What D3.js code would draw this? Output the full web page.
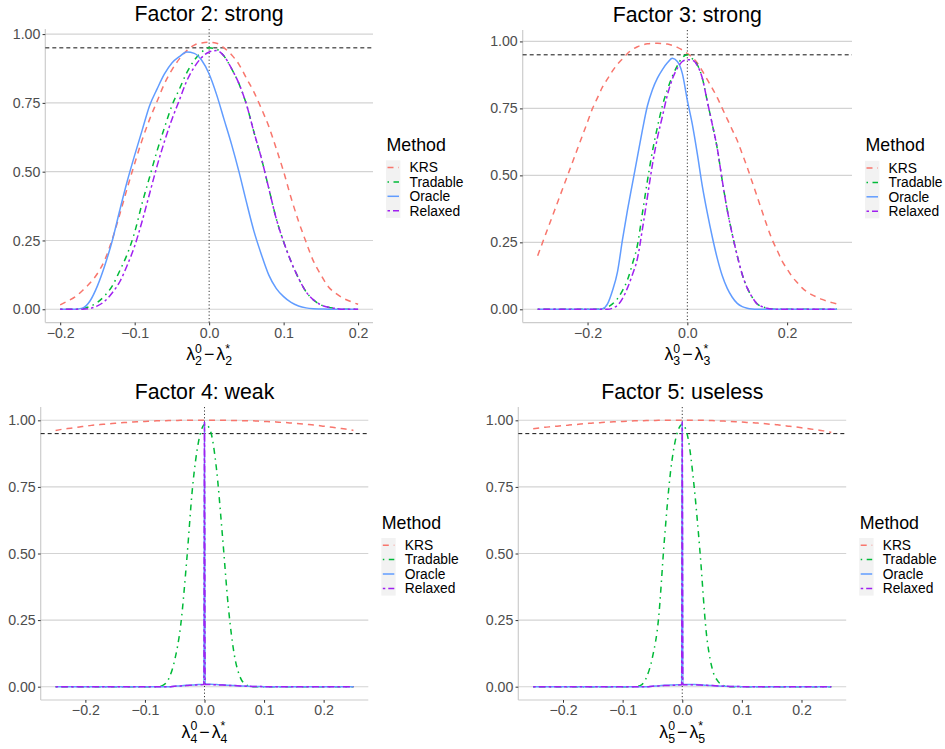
<!DOCTYPE html>
<html><head><meta charset="utf-8">
<script src="https://cdn.jsdelivr.net/npm/d3@7"></script>
<style>
body{margin:0;background:#fff}
svg{display:block}
text{font-family:"Liberation Sans",Arial,sans-serif}
</style>
</head><body>
<svg id="c" width="945" height="749"></svg>
<script>
// ---------- data ----------
const methods = ["KRS", "Tradable", "Oracle", "Relaxed"];
const methodColors = ["#F8766D", "#00BA38", "#619CFF", "#A020F0"];
const methodDash = ["6,5", "1.5,4.5,6,4.5", null, "2.5,3,7,3"];
const yTicks = [0, 0.25, 0.5, 0.75, 1];
const yTickLabels = ["0.00", "0.25", "0.50", "0.75", "1.00"];
const refCoverage = 0.95;
const titles = ["Factor 2: strong", "Factor 3: strong", "Factor 4: weak", "Factor 5: useless"];
const factorIndex = ["2", "3", "4", "5"];
const f2Ticks = [-0.2, -0.1, 0, 0.1, 0.2];
const f3Ticks = [-0.2, 0, 0.2];
const f4Ticks = [-0.2, -0.1, 0, 0.1, 0.2];
const f5Ticks = [-0.2, -0.1, 0, 0.1, 0.2];

// Factor 2: x = -0.20 .. 0.20 step 0.01
const f2X = d3.range(-20, 21).map(i => i / 100);
const f2KRS = [0.016,0.03,0.045,0.068,0.095,0.13,0.18,0.255,0.345,0.44,
  0.53,0.615,0.69,0.755,0.82,0.87,0.91,0.94,0.96,0.968,
  0.97,
  0.967,0.95,0.925,0.89,0.84,0.79,0.73,0.665,0.585,0.5,
  0.405,0.32,0.245,0.175,0.125,0.082,0.058,0.04,0.028,0.018];
const f2Tradable = [0,0,0,0.003,0.01,0.025,0.05,0.085,0.14,0.2,
  0.28,0.385,0.48,0.575,0.66,0.74,0.8,0.86,0.905,0.935,
  0.95,
  0.945,0.92,0.875,0.82,0.745,0.645,0.55,0.44,0.33,0.245,
  0.173,0.113,0.064,0.034,0.016,0.007,0.003,0,0,0];
const f2Oracle = [0,0,0,0.004,0.03,0.085,0.16,0.25,0.36,0.465,
  0.56,0.65,0.74,0.8,0.855,0.895,0.918,0.935,0.93,0.905,
  0.855,
  0.78,0.69,0.6,0.5,0.39,0.285,0.2,0.125,0.076,0.046,
  0.025,0.012,0.005,0.002,0.001,0,0,0,0,0];
const f2Relaxed = [0,0,0,0,0.003,0.012,0.03,0.06,0.1,0.16,
  0.23,0.32,0.42,0.52,0.61,0.69,0.76,0.83,0.88,0.915,
  0.935,
  0.94,0.92,0.875,0.82,0.745,0.645,0.55,0.44,0.33,0.245,
  0.173,0.113,0.064,0.034,0.016,0.007,0.003,0,0,0];

// Factor 3: x = -0.30 .. 0.30 step 0.01
const f3X = d3.range(-30, 31).map(i => i / 100);
const f3KRS = [0.2,0.25,0.3,0.35,0.4,0.45,0.5,0.55,0.6,0.65,
  0.7,0.75,0.79,0.83,0.86,0.89,0.915,0.935,0.955,0.97,
  0.98,0.987,0.991,0.993,0.993,0.992,0.99,0.985,0.978,0.968,
  0.955,
  0.94,0.92,0.89,0.857,0.825,0.79,0.75,0.71,0.67,0.63,
  0.58,0.53,0.475,0.42,0.365,0.31,0.26,0.22,0.18,0.15,
  0.122,0.1,0.08,0.065,0.054,0.045,0.037,0.03,0.025,0.02];
const f3Tradable = [0,0,0,0,0,0,0,0,0,0,
  0,0,0,0.002,0.008,0.02,0.04,0.07,0.11,0.17,
  0.24,0.36,0.48,0.59,0.68,0.76,0.82,0.87,0.91,0.94,
  0.95,
  0.935,0.913,0.863,0.776,0.69,0.6,0.48,0.37,0.28,0.2,
  0.13,0.08,0.045,0.02,0.01,0.004,0.001,0,0,0,
  0,0,0,0,0,0,0,0,0,0];
const f3Oracle = [0,0,0,0,0,0,0,0,0,0,
  0,0,0,0.002,0.02,0.07,0.14,0.26,0.37,0.47,
  0.57,0.67,0.76,0.82,0.863,0.895,0.92,0.937,0.925,0.88,
  0.78,
  0.69,0.58,0.46,0.36,0.27,0.19,0.125,0.078,0.045,0.022,
  0.01,0.004,0.001,0,0,0,0,0,0,0,
  0,0,0,0,0,0,0,0,0,0];
const f3Relaxed = [0,0,0,0,0,0,0,0,0,0,
  0,0,0,0,0,0.004,0.015,0.04,0.08,0.13,
  0.19,0.3,0.42,0.54,0.64,0.72,0.8,0.86,0.9,0.925,
  0.932,
  0.93,0.91,0.863,0.776,0.69,0.6,0.48,0.37,0.28,0.2,
  0.13,0.08,0.045,0.02,0.01,0.004,0.001,0,0,0,
  0,0,0,0,0,0,0,0,0,0];

// Factors 4 and 5: x = -0.25 .. -0.01, -0.001, 0, 0.001, 0.01 .. 0.25
const f45X = d3.range(-25, 0).map(i => i / 100).concat([-0.001, 0, 0.001], d3.range(1, 26).map(i => i / 100));
const f4KRS = [0.962,0.966,0.969,0.972,0.975,0.978,0.981,0.983,0.985,0.987,
  0.989,0.991,0.992,0.994,0.995,0.996,0.997,0.998,0.998,0.999,
  0.999,1,1,1,1,
  1,1,1,
  1,1,1,1,0.999,0.999,0.998,0.998,0.997,0.996,
  0.995,0.994,0.992,0.991,0.989,0.987,0.985,0.983,0.981,0.978,
  0.975,0.972,0.969,0.966,0.962];
const f4Tradable = [0,0,0,0,0,0,0,0,0,0,0,0,0,0,0,0,0,0,
  0.005,0.03,0.1,0.23,0.47,0.75,0.92,
  0.983,0.985,0.987,
  0.96,0.82,0.57,0.3,0.12,0.035,0.007,
  0,0,0,0,0,0,0,0,0,0,0,0,0,0,0,0,0,0];
const f4Oracle = [0,0,0,0,0,0,0,0,0,0,0,0,0,0,0,0,0,0,0,0,
  0.002,0.003,0.005,0.006,0.008,
  0.009,0.995,0.009,
  0.009,0.008,0.007,0.005,0.004,0.003,0.002,0.001,0.001,
  0,0,0,0,0,0,0,0,0,0,0,0,0,0,0,0];
const f4Relaxed = [0,0,0,0,0,0,0,0,0,0,0,0,0,0,0,0,0,0,0,0,
  0.002,0.003,0.004,0.006,0.007,
  0.008,0.994,0.008,
  0.008,0.007,0.006,0.005,0.004,0.003,0.002,0.001,0.001,
  0,0,0,0,0,0,0,0,0,0,0,0,0,0,0,0];

const f5KRS = [0.968,0.971,0.974,0.976,0.978,0.98,0.982,0.984,0.986,0.988,
  0.99,0.991,0.993,0.994,0.995,0.996,0.997,0.998,0.998,0.999,
  0.999,1,1,1,1,
  1,1,1,
  1,1,1,1,0.999,0.998,0.997,0.996,0.995,0.994,
  0.992,0.991,0.989,0.987,0.985,0.983,0.98,0.978,0.975,0.972,
  0.969,0.966,0.963,0.959,0.955];
const f5Tradable = [0,0,0,0,0,0,0,0,0,0,0,0,0,0,0,0,0,0,
  0.005,0.035,0.11,0.25,0.55,0.8,0.94,
  0.985,0.986,0.985,
  0.93,0.75,0.5,0.21,0.07,0.02,0.004,
  0,0,0,0,0,0,0,0,0,0,0,0,0,0,0,0,0,0];
const f5Oracle = [0,0,0,0,0,0,0,0,0,0,0,0,0,0,0,0,0,0,0,0,
  0.002,0.003,0.005,0.006,0.007,
  0.008,0.995,0.008,
  0.008,0.008,0.007,0.005,0.004,0.003,0.002,0.001,0.001,
  0,0,0,0,0,0,0,0,0,0,0,0,0,0,0,0];
const f5Relaxed = [0,0,0,0,0,0,0,0,0,0,0,0,0,0,0,0,0,0,0,0,
  0.002,0.003,0.004,0.005,0.006,
  0.007,0.994,0.007,
  0.007,0.007,0.006,0.005,0.004,0.003,0.002,0.001,0.001,
  0,0,0,0,0,0,0,0,0,0,0,0,0,0,0,0];

// ---------- layout ----------
const panels = [
  {x: f2X, s: [f2KRS, f2Tradable, f2Oracle, f2Relaxed], ticks: f2Ticks, L: 45.3, R: 373, T: 29, B: 322.6},
  {x: f3X, s: [f3KRS, f3Tradable, f3Oracle, f3Relaxed], ticks: f3Ticks, L: 522.7, R: 852, T: 30, B: 322.6},
  {x: f45X, s: [f4KRS, f4Tradable, f4Oracle, f4Relaxed], ticks: f4Ticks, L: 40.7, R: 368.3, T: 407, B: 700},
  {x: f45X, s: [f5KRS, f5Tradable, f5Oracle, f5Relaxed], ticks: f5Ticks, L: 518.3, R: 846.2, T: 407, B: 700}
];
const TICK_FS = 14.2, TITLE_FS = 21.3, AXT_FS = 17.8, LEG_T_FS = 17.8, LEG_FS = 13.8;

const svg = d3.select("#c");
svg.append("rect").attr("width", 945).attr("height", 749).attr("fill", "#fff");

function expand(ext) { const r = ext[1] - ext[0]; return [ext[0] - 0.05 * r, ext[1] + 0.05 * r]; }
function fmtX(d) { return d === 0 ? "0.0" : (d < 0 ? "\u2212" : "") + Math.abs(d).toFixed(1); }

function lambdaTitle(g, cx, y, k) {
  const t = g.append("g");
  let x = 0;
  const small = 12.3;
  function piece(txt, size, dy) {
    const el = t.append("text").attr("x", x).attr("y", dy).attr("font-size", size).attr("fill", "#000").text(txt);
    return el.node().getComputedTextLength();
  }
  x += piece("\u03BB", AXT_FS, 0);
  let a = piece("0", small, -7.5), b = piece(k, small, 5);
  x += Math.max(a, b) + 2;
  x += piece("\u2212", AXT_FS, 0) + 2;
  x += piece("\u03BB", AXT_FS, 0);
  a = piece("*", small, -7.5); b = piece(k, small, 5);
  x += Math.max(a, b);
  t.attr("transform", `translate(${cx - x / 2},${y})`);
}

panels.forEach((p, pi) => {
  const g = svg.append("g");
  const xs = d3.scaleLinear().domain(expand(d3.extent(p.x))).range([p.L, p.R]);
  const allY = p.s.flat().concat([refCoverage]);
  const ys = d3.scaleLinear().domain(expand(d3.extent(allY))).range([p.B, p.T]);

  // grid
  g.append("g").selectAll("line").data(yTicks).join("line")
    .attr("x1", p.L).attr("x2", p.R).attr("y1", d => ys(d)).attr("y2", d => ys(d))
    .attr("stroke", "#D3D3D3").attr("stroke-width", 1.1);

  // axis lines
  g.append("line").attr("x1", p.L).attr("x2", p.L).attr("y1", p.T).attr("y2", p.B)
    .attr("stroke", "#CCCCCC").attr("stroke-width", 1.2);
  g.append("line").attr("x1", p.L).attr("x2", p.R).attr("y1", p.B).attr("y2", p.B)
    .attr("stroke", "#CCCCCC").attr("stroke-width", 1.2);

  // axes
  const ya = g.append("g").attr("transform", `translate(${p.L},0)`)
    .call(d3.axisLeft(ys).tickValues(yTicks).tickFormat((d, i) => yTickLabels[i]).tickSize(2.75).tickPadding(2.2));
  const xa = g.append("g").attr("transform", `translate(0,${p.B})`)
    .call(d3.axisBottom(xs).tickValues(p.ticks).tickFormat(fmtX).tickSize(2.75).tickPadding(2.2));
  [ya, xa].forEach(a => {
    a.select(".domain").remove();
    a.selectAll(".tick line").attr("stroke", "#333").attr("stroke-width", 1);
    a.selectAll(".tick text").attr("fill", "#4D4D4D").attr("font-size", TICK_FS)
      .attr("font-family", '"Liberation Sans",Arial,sans-serif');
  });

  // reference lines
  g.append("line").attr("x1", p.L).attr("x2", p.R).attr("y1", ys(refCoverage)).attr("y2", ys(refCoverage))
    .attr("stroke", "#111").attr("stroke-width", 1).attr("stroke-dasharray", "4,3");
  g.append("line").attr("x1", xs(0)).attr("x2", xs(0)).attr("y1", p.T).attr("y2", p.B)
    .attr("stroke", "#222").attr("stroke-width", 0.9).attr("stroke-dasharray", "1.2,2.2");

  // series
  const line = d3.line().x(d => xs(d[0])).y(d => ys(d[1])).curve(d3.curveMonotoneX);
  p.s.forEach((vals, mi) => {
    const pts = p.x.map((x, i) => [x, vals[i]]);
    g.append("path").attr("d", line(pts)).attr("fill", "none")
      .attr("stroke", methodColors[mi]).attr("stroke-width", 1.5)
      .attr("stroke-dasharray", methodDash[mi]);
  });

  // title
  g.append("text").attr("x", (p.L + p.R) / 2).attr("y", p.T - 8.3).attr("text-anchor", "middle")
    .attr("font-size", TITLE_FS).attr("fill", "#000").text(titles[pi]);

  // axis title
  lambdaTitle(g, xs(0), p.B + 37.5, factorIndex[pi]);

  // legend
  const cy = (p.T + p.B) / 2;
  const kx = p.R + 13;
  const lg = svg.append("g");
  lg.append("text").attr("x", kx + 0.5).attr("y", cy - 25).attr("font-size", LEG_T_FS).attr("fill", "#000").text("Method");
  lg.append("rect").attr("x", kx).attr("y", cy - 15.5).attr("width", 14.4).attr("height", 57.6).attr("fill", "#F2F2F2");
  methods.forEach((m, i) => {
    const yy = cy - 8.3 + i * 14.4;
    lg.append("line").attr("x1", kx + 1.5).attr("x2", kx + 13).attr("y1", yy).attr("y2", yy)
      .attr("stroke", methodColors[i]).attr("stroke-width", 1.5).attr("stroke-dasharray", methodDash[i]);
    lg.append("text").attr("x", kx + 23.5).attr("y", yy).attr("dy", "0.35em").attr("font-size", LEG_FS)
      .attr("fill", "#000").text(m);
  });
});
</script>
</body></html>
